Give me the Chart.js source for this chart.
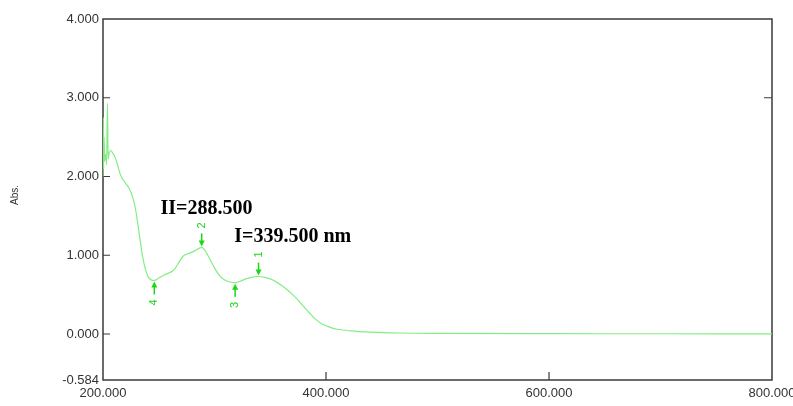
<!DOCTYPE html>
<html>
<head>
<meta charset="utf-8">
<script src="https://cdn.jsdelivr.net/npm/chart.js@4/dist/chart.umd.min.js"></script>
<style>
  html, body { margin: 0; padding: 0; background: #fff; }
</style>
</head>
<body>
<canvas id="spectrum" width="793" height="406"></canvas>
<script>
// UV spectrum, wavelength (nm) vs absorbance
const wavelength = [200.0, 200.3, 200.6, 201.0, 201.5, 202.5, 203.2, 204.0, 204.6, 205.5, 207, 209, 211, 213, 215, 217, 219, 221, 223, 225, 227, 229, 231, 233, 235, 237, 239, 241, 243, 246, 250, 255, 260, 264, 268, 272, 276, 280, 284, 286.5, 288.5, 291, 294, 297, 300, 303, 306, 310, 314, 318.5, 323, 328, 333, 339.5, 345, 350, 355, 360, 365, 370, 375, 380, 385, 390, 395, 401, 405, 410, 422, 440, 466, 500, 600, 700, 800];
const absorbance = [2.00, 2.75, 2.10, 2.50, 2.20, 2.28, 2.15, 2.93, 2.22, 2.30, 2.33, 2.29, 2.24, 2.15, 2.05, 1.98, 1.94, 1.90, 1.86, 1.80, 1.72, 1.60, 1.42, 1.22, 1.03, 0.88, 0.78, 0.72, 0.69, 0.68, 0.71, 0.75, 0.78, 0.82, 0.91, 0.99, 1.02, 1.04, 1.07, 1.09, 1.10, 1.07, 1.00, 0.92, 0.84, 0.77, 0.72, 0.68, 0.66, 0.65, 0.67, 0.70, 0.72, 0.73, 0.72, 0.70, 0.665, 0.62, 0.565, 0.50, 0.43, 0.35, 0.27, 0.195, 0.14, 0.10, 0.078, 0.060, 0.040, 0.024, 0.013, 0.008, 0.004, 0.003, 0.002];

const xTicks = [200, 400, 600, 800];
const yTicks = [-0.584, 0, 1, 2, 3, 4];

// picked peaks / valleys
const peakNo = ['1', '2', '3', '4'];
const peakNm = [339.5, 288.5, 318.5, 246];
const peakAbs = [0.73, 1.10, 0.65, 0.68];
const peakKind = ['peak', 'peak', 'valley', 'valley'];

// annotations written on the plot
const notes = ['II=288.500', 'I=339.500 nm'];
const noteNm = [251.5, 317.7];
const noteAbs = [1.524, 1.166];

const lineColor = '#82ee82';
const markColor = '#18d818';
const axisColor = '#3a3a3a';
const textColor = '#333';

const decor = {
  id: 'decor',
  beforeDatasetsDraw(chart) {
    const { ctx, chartArea: a, scales: { x, y } } = chart;
    ctx.save();
    ctx.strokeStyle = axisColor;
    ctx.lineWidth = 1.5;
    ctx.strokeRect(a.left, a.top, a.right - a.left, a.bottom - a.top);
    ctx.lineWidth = 1.2;
    ctx.beginPath();
    [0, 1, 2, 3].forEach(v => {
      const py = y.getPixelForValue(v);
      ctx.moveTo(a.left, py); ctx.lineTo(a.left + 7, py);
    });
    const p3 = y.getPixelForValue(3);
    ctx.moveTo(a.right, p3); ctx.lineTo(a.right - 8, p3);
    [400, 600].forEach(v => {
      const px = x.getPixelForValue(v);
      ctx.moveTo(px, a.bottom); ctx.lineTo(px, a.bottom - 8);
    });
    ctx.stroke();
    ctx.restore();
  },
  afterDraw(chart) {
    const { ctx, scales: { x, y } } = chart;
    ctx.save();

    // peak markers
    ctx.strokeStyle = markColor;
    ctx.fillStyle = markColor;
    ctx.lineWidth = 1.5;
    peakNo.forEach((label, i) => {
      const px = x.getPixelForValue(peakNm[i]);
      const py = y.getPixelForValue(peakAbs[i]);
      const dir = peakKind[i] === 'peak' ? -1 : 1;
      ctx.beginPath();
      ctx.moveTo(px, py + dir * 5);
      ctx.lineTo(px, py + dir * 14);
      ctx.stroke();
      ctx.beginPath();
      ctx.moveTo(px, py + dir * 1);
      ctx.lineTo(px - 3, py + dir * 7);
      ctx.lineTo(px + 3, py + dir * 7);
      ctx.closePath();
      ctx.fill();
      ctx.save();
      ctx.translate(px, py + dir * 22);
      ctx.rotate(-Math.PI / 2);
      ctx.font = '11px "Liberation Sans", Arial, sans-serif';
      ctx.textAlign = 'center';
      ctx.textBaseline = 'middle';
      ctx.fillText(label, 0, 0);
      ctx.restore();
    });

    // notes
    ctx.fillStyle = '#000';
    ctx.font = 'bold 20px "Liberation Serif", "Times New Roman", serif';
    ctx.textAlign = 'left';
    ctx.textBaseline = 'alphabetic';
    notes.forEach((t, i) => {
      ctx.fillText(t, x.getPixelForValue(noteNm[i]), y.getPixelForValue(noteAbs[i]));
    });

    // axis titles
    ctx.fillStyle = textColor;
    ctx.font = '10px "Liberation Sans", Arial, sans-serif';
    ctx.textAlign = 'center';
    ctx.textBaseline = 'middle';
    ctx.save();
    ctx.translate(15, 195);
    ctx.rotate(-Math.PI / 2);
    ctx.fillText('Abs.', 0, 0);
    ctx.restore();
    ctx.font = '11px "Liberation Sans", Arial, sans-serif';
    ctx.textBaseline = 'top';
    ctx.fillText('nm', 432, 403);
    ctx.restore();
  }
};

new Chart(document.getElementById('spectrum'), {
  type: 'line',
  data: {
    datasets: [{
      data: wavelength.map((w, i) => ({ x: w, y: absorbance[i] })),
      borderColor: lineColor,
      borderWidth: 1.2,
      pointRadius: 0,
      fill: false,
      cubicInterpolationMode: 'monotone'
    }]
  },
  options: {
    responsive: false,
    animation: false,
    layout: { padding: { top: 19, right: 21, left: 0, bottom: 0 } },
    plugins: { legend: { display: false }, tooltip: { enabled: false } },
    scales: {
      x: {
        type: 'linear',
        min: 200,
        max: 800,
        afterBuildTicks: s => { s.ticks = xTicks.map(v => ({ value: v })); },
        afterFit: s => { s.height = 26; s.paddingLeft = 0; s.paddingRight = 0; },
        grid: { display: false, drawTicks: false },
        border: { display: false },
        ticks: {
          autoSkip: false,
          maxRotation: 0,
          padding: 6,
          color: textColor,
          font: { family: '"Liberation Sans", Arial, sans-serif', size: 13 },
          callback: v => v.toFixed(3)
        }
      },
      y: {
        type: 'linear',
        min: -0.584,
        max: 4,
        afterBuildTicks: s => { s.ticks = yTicks.map(v => ({ value: v })); },
        afterFit: s => { s.width = 103; s.paddingTop = 0; s.paddingBottom = 0; },
        grid: { display: false, drawTicks: false },
        border: { display: false },
        ticks: {
          autoSkip: false,
          padding: 4,
          color: textColor,
          font: { family: '"Liberation Sans", Arial, sans-serif', size: 13 },
          callback: v => v.toFixed(3)
        }
      }
    }
  },
  plugins: [decor]
});
</script>
</body>
</html>
